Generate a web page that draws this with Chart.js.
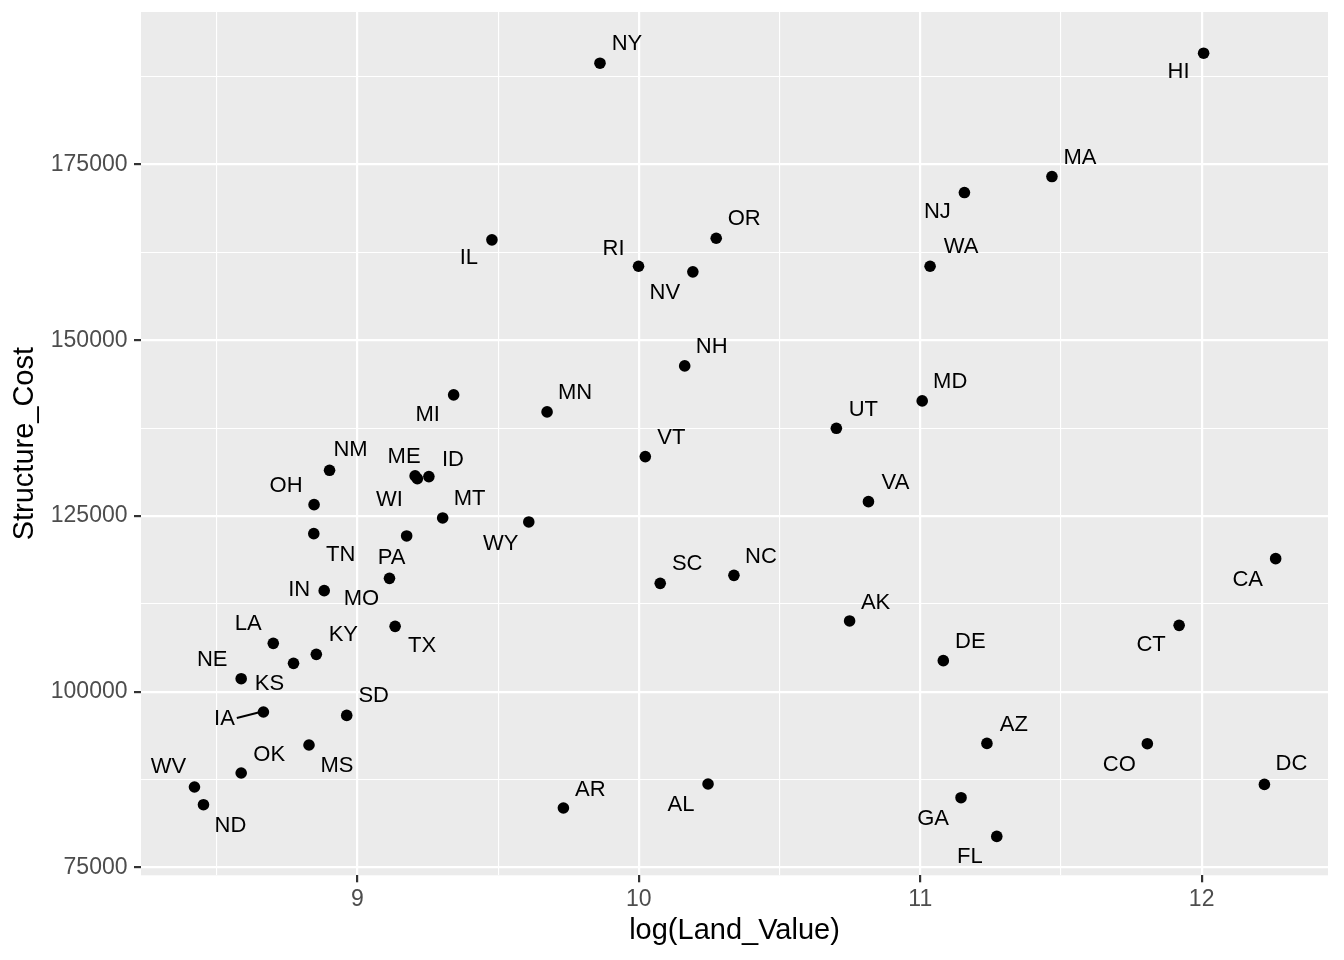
<!DOCTYPE html>
<html>
<head>
<meta charset="utf-8">
<script src="https://cdn.jsdelivr.net/npm/chart.js@4.4.0/dist/chart.umd.min.js"></script>
<style>
  html, body { margin: 0; padding: 0; background: #ffffff; }
  #wrap { width: 1344px; height: 960px; }
</style>
</head>
<body>
<div id="wrap"><canvas id="chart" width="1344" height="960"></canvas></div>
<script>
// state data
const states = ['NY','HI','MA','NJ','OR','IL','RI','NV','WA','NH','MD','MI','MN','UT','VT','NM','ME','WI','ID','OH',
  'VA','MT','WY','TN','PA','CA','MO','SC','NC','IN','AK','TX','CT','LA','KY','KS','NE','DE','IA','SD',
  'AZ','CO','MS','OK','WV','ND','AR','AL','DC','GA','FL'];

const logLandValue = [9.862, 12.007, 11.468, 11.157, 10.275, 9.478, 9.999, 10.192, 11.035, 10.163,
  11.007, 9.342, 9.674, 10.702, 10.023, 8.901, 9.205, 9.213, 9.254, 8.846,
  10.816, 9.303, 9.609, 8.845, 9.175, 12.263, 9.114, 10.076, 10.338, 8.882,
  10.749, 9.134, 11.920, 8.701, 8.854, 8.773, 8.587, 11.082, 8.666, 8.962,
  11.237, 11.807, 8.828, 8.587, 8.421, 8.453, 9.732, 10.246, 12.223, 11.145, 11.272];

const structureCost = [189416, 190839, 173292, 171015, 164512, 164284, 160527, 159730, 160527, 146353,
  141372, 142226, 139807, 137473, 133446, 131496, 130700, 130300, 130600, 126615,
  127042, 124722, 124153, 122488, 122161, 118930, 116127, 115415, 116554, 114377,
  110065, 109296, 109439, 106877, 105312, 104031, 101853, 104415, 97115, 96631,
  92646, 92604, 92419, 88434, 86442, 83923, 83453, 86868, 86812, 84919, 79412];

const xTicks = [8.5, 9, 9.5, 10, 10.5, 11, 11.5, 12];
const xMajor = [9, 10, 11, 12];
const yTicks = [75000, 87500, 100000, 112500, 125000, 137500, 150000, 162500, 175000, 187500];
const yMajor = [75000, 100000, 125000, 150000, 175000];

// repelled label placement (pixel nudge from each point)
const labelDx = [27, -25, 28, -27, 28, -23, -25, -28, 31, 27,
  28, -26, 28, 27, 26, 21, -11, -28, 24, -28,
  27, 27, -28, 27, -15, -28, -28, 27, 27, -25,
  26, 27, -28, -25, 27, -24, -29, 27, -39, 27,
  27, -28, 28, 28, -26, 27, 27, -27, 27, -28, -27];
const labelDy = [-19, 19, -19, 19, -19, 18, -17, 21, -19, -19,
  -19, 20, -19, -18, -19, -20, -19, 21, -17, -19,
  -19, -19, 22, 21, 22, 21, 21, -19, -18, -1,
  -18, 20, 20, -19, -19, 21, -19, -19, 7, -19,
  -18, 21, 21, -18, -20, 21, -18, 21, -20, 21, 21];
const withSegment = ['IA'];

const FONT = '"Liberation Sans", Arial, Helvetica, sans-serif';

const panelBackground = {
  id: 'panelBackground',
  beforeDraw(chart) {
    const { ctx, chartArea: a } = chart;
    ctx.save();
    ctx.fillStyle = '#EBEBEB';
    ctx.fillRect(a.left, a.top, a.right - a.left, a.bottom - a.top);
    ctx.restore();
  }
};

const stateLabels = {
  id: 'stateLabels',
  afterDatasetsDraw(chart) {
    const { ctx } = chart;
    const meta = chart.getDatasetMeta(0);
    ctx.save();
    ctx.font = '22px ' + FONT;
    ctx.fillStyle = '#000000';
    ctx.textAlign = 'center';
    ctx.textBaseline = 'middle';
    meta.data.forEach((pt, i) => {
      const lx = pt.x + labelDx[i];
      const ly = pt.y + labelDy[i];
      if (withSegment.includes(states[i])) {
        const w = ctx.measureText(states[i]).width;
        ctx.beginPath();
        ctx.strokeStyle = '#000000';
        ctx.lineWidth = 2;
        ctx.moveTo(lx + w / 2 + 2, ly - 1);
        ctx.lineTo(pt.x - 3, pt.y);
        ctx.stroke();
      }
      ctx.fillText(states[i], lx, ly);
    });
    ctx.restore();
  }
};

new Chart(document.getElementById('chart'), {
  type: 'scatter',
  data: {
    datasets: [{
      data: logLandValue.map((x, i) => ({ x: x, y: structureCost[i] })),
      backgroundColor: '#000000',
      borderWidth: 0,
      pointRadius: 5.8,
      pointHoverRadius: 5.8
    }]
  },
  options: {
    responsive: false,
    devicePixelRatio: 1,
    animation: false,
    layout: { padding: { top: 12, right: 16, left: 0, bottom: 0 } },
    plugins: {
      legend: { display: false },
      tooltip: { enabled: false }
    },
    scales: {
      x: {
        type: 'linear',
        min: 8.231,
        max: 12.449,
        afterFit(axis) {
          axis.height = 84.7;
          axis.paddingLeft = 0;
          axis.paddingRight = 0;
        },
        afterBuildTicks(axis) { axis.ticks = xTicks.map(v => ({ value: v })); },
        border: { display: false },
        grid: {
          color: '#FFFFFF',
          lineWidth: ctx => xMajor.includes(ctx.tick.value) ? 2.2 : 1.1,
          tickColor: ctx => xMajor.includes(ctx.tick.value) ? '#333333' : 'rgba(0,0,0,0)',
          tickWidth: 2.2,
          tickLength: 7
        },
        ticks: {
          autoSkip: false,
          maxRotation: 0,
          padding: 4,
          color: '#4D4D4D',
          font: { family: FONT, size: 23 },
          callback: v => xMajor.includes(v) ? String(v) : ''
        },
        title: {
          display: true,
          text: 'log(Land_Value)',
          color: '#000000',
          font: { family: FONT, size: 29 },
          padding: { top: 0, bottom: 12 }
        }
      },
      y: {
        type: 'linear',
        min: 73880,
        max: 196700,
        afterFit(axis) {
          axis.width = 141;
          axis.paddingTop = 0;
          axis.paddingBottom = 0;
        },
        afterBuildTicks(axis) { axis.ticks = yTicks.map(v => ({ value: v })); },
        border: { display: false },
        grid: {
          color: '#FFFFFF',
          lineWidth: ctx => yMajor.includes(ctx.tick.value) ? 2.2 : 1.1,
          tickColor: ctx => yMajor.includes(ctx.tick.value) ? '#333333' : 'rgba(0,0,0,0)',
          tickWidth: 2.2,
          tickLength: 7
        },
        ticks: {
          autoSkip: false,
          padding: 6.5,
          color: '#4D4D4D',
          font: { family: FONT, size: 23 },
          callback: v => yMajor.includes(v) ? String(v) : ''
        },
        title: {
          display: true,
          text: 'Structure_Cost',
          color: '#000000',
          font: { family: FONT, size: 29 },
          padding: { top: 8, bottom: 0 }
        }
      }
    }
  },
  plugins: [panelBackground, stateLabels]
});
</script>
</body>
</html>
